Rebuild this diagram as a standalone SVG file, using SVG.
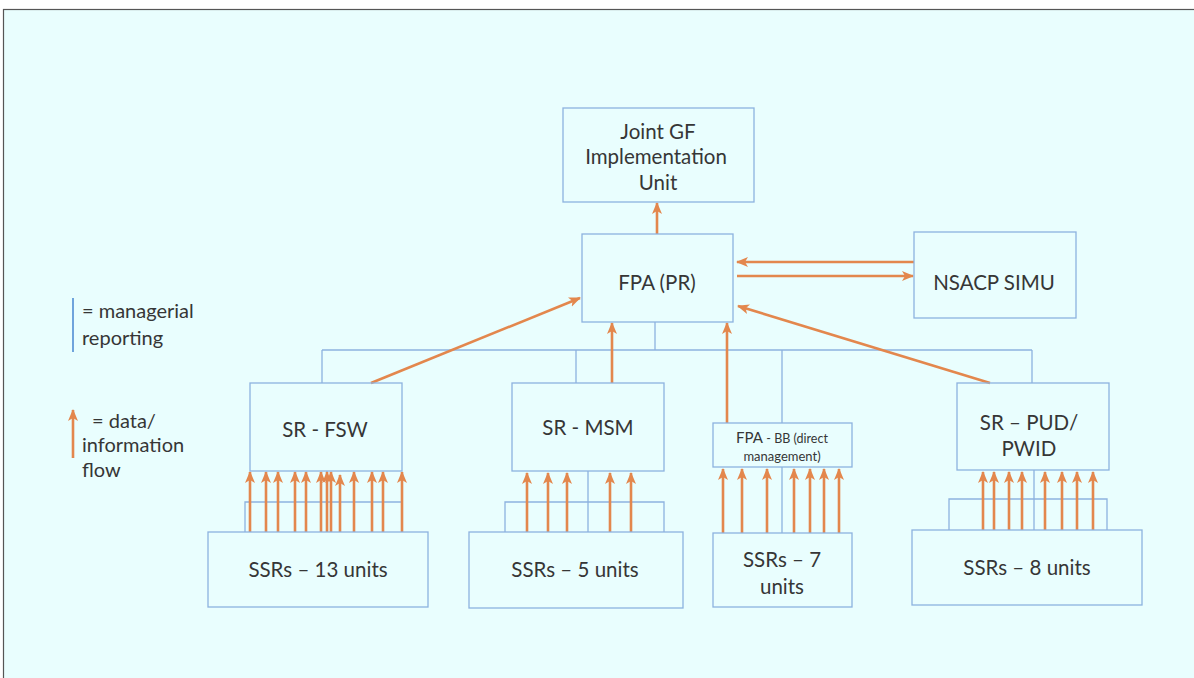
<svg xmlns="http://www.w3.org/2000/svg" width="1194" height="678" viewBox="0 0 1194 678">
<defs>
<style>
.box{fill:none;stroke:#8db2df;stroke-width:1.3}
.mg{fill:none;stroke:#8db2df;stroke-width:1.3}
.fl{fill:none;stroke:#e3874d;stroke-width:2.6;marker-end:url(#ah)}
text{font-family:Lato,"Open Sans","Liberation Sans",sans-serif;fill:#363636;text-anchor:middle}
.t{font-size:20.5px}
.lg{font-size:20px;text-anchor:start}
</style>
<marker id="ah" markerUnits="userSpaceOnUse" markerWidth="12" markerHeight="12" viewBox="0 0 12 12" refX="11" refY="6" orient="auto">
<path d="M0,1 L12,6 L0,11 L3,6 z" fill="#e3874d"/>
</marker>
</defs>
<rect x="0" y="0" width="1194" height="678" fill="#ffffff"/>
<rect x="3.5" y="9.5" width="1195" height="675" fill="#e9fefe" stroke="#555" stroke-width="1.2"/>

<g id="legend">
<line x1="73" y1="298" x2="73" y2="352" stroke="#6fa4dc" stroke-width="2"/>
<text class="lg" x="82" y="318">= managerial</text>
<text class="lg" x="82" y="345">reporting</text>
<line class="fl" x1="73" y1="458" x2="73" y2="410"/>
<text class="lg" x="92" y="428">= data/</text>
<text class="lg" x="82" y="452">information</text>
<text class="lg" x="82" y="477">flow</text>
</g>

<g id="connectors">
<g id="managerial">
<path class="mg" d="M655,322 V350 M322,350 H1032 M322,350 V383 M576,350 V383 M782,350 V423 M1032,350 V383"/>
<path class="mg" d="M245,532 V502 H402 V532 M327,471 V532"/>
<path class="mg" d="M505,532 V502 H664 V532 M588,471 V532"/>
<path class="mg" d="M782,467 V533"/>
<path class="mg" d="M949,530 V499 H1107 V530 M1034,470 V530"/>
</g>
<g id="flows">
<line class="fl" x1="657" y1="234" x2="657" y2="203"/>
<line class="fl" x1="914" y1="262" x2="737" y2="262"/>
<line class="fl" x1="737" y1="276" x2="913" y2="276"/>
<line class="fl" x1="371" y1="383" x2="580" y2="298"/>
<line class="fl" x1="612" y1="383" x2="612" y2="323"/>
<line class="fl" x1="727" y1="423" x2="727" y2="323"/>
<line class="fl" x1="990" y1="383" x2="738" y2="306"/>
<!-- FSW -->
<line class="fl" x1="250" y1="532" x2="250" y2="472"/>
<line class="fl" x1="266" y1="532" x2="266" y2="472"/>
<line class="fl" x1="278" y1="532" x2="278" y2="472"/>
<line class="fl" x1="295" y1="532" x2="295" y2="472"/>
<line class="fl" x1="306" y1="532" x2="306" y2="472"/>
<line class="fl" x1="321" y1="532" x2="321" y2="472"/>
<line class="fl" x1="327" y1="532" x2="327" y2="472"/>
<line class="fl" x1="331" y1="532" x2="331" y2="472"/>
<line class="fl" x1="340" y1="532" x2="340" y2="475"/>
<line class="fl" x1="354" y1="532" x2="354" y2="472"/>
<line class="fl" x1="372" y1="532" x2="372" y2="472"/>
<line class="fl" x1="383" y1="532" x2="383" y2="472"/>
<line class="fl" x1="402" y1="532" x2="402" y2="472"/>
<!-- MSM -->
<line class="fl" x1="527" y1="532" x2="527" y2="473"/>
<line class="fl" x1="548" y1="532" x2="548" y2="473"/>
<line class="fl" x1="567" y1="532" x2="567" y2="473"/>
<line class="fl" x1="610" y1="532" x2="610" y2="473"/>
<line class="fl" x1="631" y1="532" x2="631" y2="473"/>
<!-- BB -->
<line class="fl" x1="723" y1="533" x2="723" y2="469"/>
<line class="fl" x1="742" y1="533" x2="742" y2="469"/>
<line class="fl" x1="767" y1="533" x2="767" y2="469"/>
<line class="fl" x1="794" y1="533" x2="794" y2="469"/>
<line class="fl" x1="810" y1="533" x2="810" y2="469"/>
<line class="fl" x1="824" y1="533" x2="824" y2="469"/>
<line class="fl" x1="839" y1="533" x2="839" y2="469"/>
<!-- PUD -->
<line class="fl" x1="983" y1="530" x2="983" y2="472"/>
<line class="fl" x1="994" y1="530" x2="994" y2="472"/>
<line class="fl" x1="1009" y1="530" x2="1009" y2="472"/>
<line class="fl" x1="1022" y1="530" x2="1022" y2="472"/>
<line class="fl" x1="1045" y1="530" x2="1045" y2="472"/>
<line class="fl" x1="1062" y1="530" x2="1062" y2="472"/>
<line class="fl" x1="1077" y1="530" x2="1077" y2="472"/>
<line class="fl" x1="1093" y1="530" x2="1093" y2="472"/>
</g>
</g>

<g id="joint"><rect class="box" x="563" y="108" width="191" height="94"/>
<text class="t" x="658" y="139">Joint GF</text><text class="t" x="656" y="164">Implementation</text><text class="t" x="658" y="190">Unit</text></g>
<g id="fpa"><rect class="box" x="582" y="234" width="151" height="88"/>
<text class="t" x="657" y="290">FPA (PR)</text></g>
<g id="nsacp"><rect class="box" x="914" y="232" width="162" height="86"/>
<text class="t" x="994" y="290">NSACP SIMU</text></g>
<g id="fsw"><rect class="box" x="250" y="383" width="152" height="88"/>
<text class="t" x="325" y="437">SR - FSW</text></g>
<g id="msm"><rect class="box" x="512" y="383" width="152" height="88"/>
<text class="t" x="588" y="435">SR - MSM</text></g>
<g id="bb"><rect class="box" x="713" y="423" width="139" height="44"/>
<text x="782" y="443" style="font-size:15px">FPA <tspan style="font-size:12.5px">- BB (direct</tspan></text>
<text x="782" y="461" style="font-size:13px">management)</text></g>
<g id="pud"><rect class="box" x="957" y="383" width="152" height="87"/>
<text class="t" x="1029" y="430">SR – PUD/</text><text class="t" x="1029" y="456">PWID</text></g>
<g id="ssr13"><rect class="box" x="208" y="532" width="220" height="75"/>
<text class="t" x="318" y="577">SSRs – 13 units</text></g>
<g id="ssr5"><rect class="box" x="469" y="532" width="214" height="76"/>
<text class="t" x="575" y="577">SSRs – 5 units</text></g>
<g id="ssr7"><rect class="box" x="713" y="533" width="139" height="74"/>
<text class="t" x="782" y="567">SSRs – 7</text><text class="t" x="782" y="594">units</text></g>
<g id="ssr8"><rect class="box" x="912" y="530" width="230" height="75"/>
<text class="t" x="1027" y="575">SSRs – 8 units</text></g>
</svg>
